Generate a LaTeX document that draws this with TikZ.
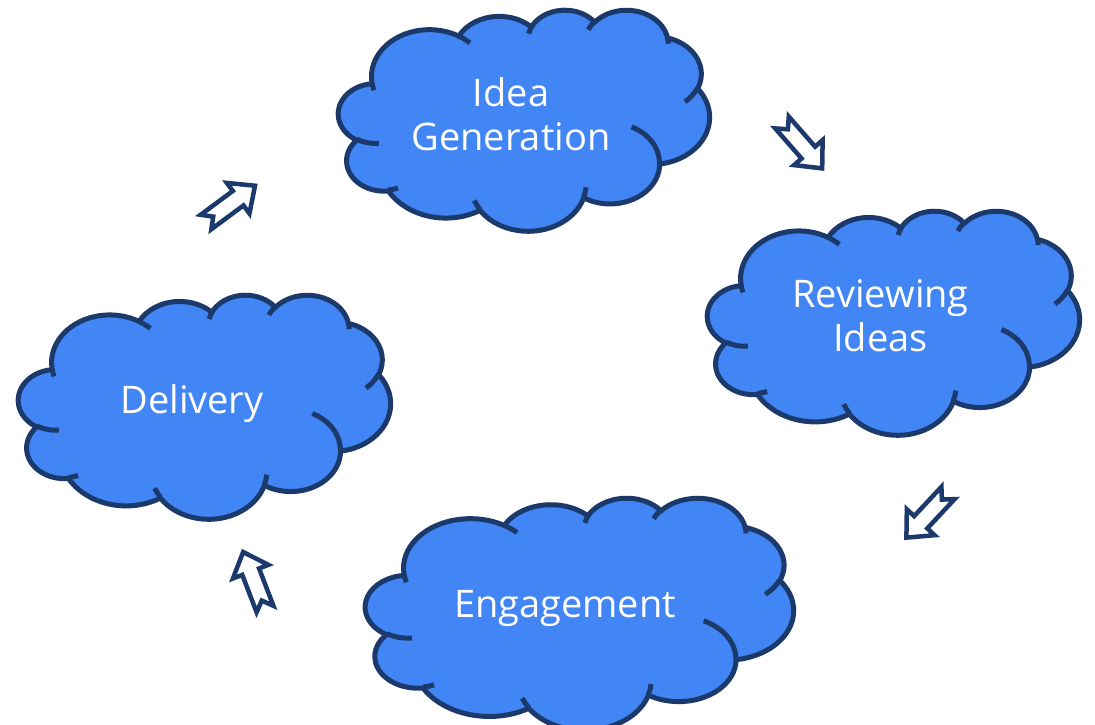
\documentclass[tikz,border=0pt]{standalone}
\usepackage{fontspec}
\setmainfont{Open Sans}

\definecolor{cloudfill}{HTML}{4285F4}
\definecolor{cloudedge}{HTML}{1B3A6B}

% one arc of the cloud outline: x radius, y radius, start, sweep (visual angles)
\newcommand\ooarc[4]{arc[x radius=#1, y radius=#2,
  start angle={atan2(sin(#3)/#2,cos(#3)/#1)},
  delta angle={mod(atan2(sin(#3+#4)/#2,cos(#3+#4)/#1)-atan2(sin(#3)/#2,cos(#3)/#1)+720,360)}]}

\newcommand\cloudoutline{(3.9,14.37)
  \ooarc{6.753}{9.19}{-190.4875}{123.7805}
  \ooarc{5.333}{7.267}{-144.1024}{89.9452}
  \ooarc{4.365}{5.945}{-145.8079}{99.7230}
  \ooarc{4.857}{6.595}{-130.9861}{117.2417}
  \ooarc{5.333}{7.273}{-78.7089}{109.0269}
  \ooarc{6.775}{9.22}{-46.2673}{130.2690}
  \ooarc{5.785}{7.867}{0.6250}{114.0333}
  \ooarc{6.752}{9.215}{22.4516}{115.1726}
  \ooarc{7.72}{10.543}{66.2426}{75.7110}
  \ooarc{4.36}{5.918}{-274.9421}{146.7356}
  \ooarc{4.345}{5.945}{-246.8285}{152.5189}
  -- cycle}

\newcommand\cloudfolds{
  (4.693,26.177) \ooarc{4.345}{5.945}{86.7420}{26.4295}
  (6.928,34.899) \ooarc{4.36}{5.918}{73.6105}{11.4475}
  (16.478,39.09) \ooarc{6.752}{9.215}{137.6242}{14.0811}
  (28.827,34.751) \ooarc{6.752}{9.215}{6.4533}{15.9984}
  (34.129,22.954) \ooarc{5.785}{7.867}{-70.2924}{70.9174}
  (41.798,15.354) \ooarc{5.333}{7.273}{30.3180}{27.7515}
  (38.324,5.426) \ooarc{4.857}{6.595}{-13.7443}{14.8589}
  (29.078,3.952) \ooarc{4.857}{6.595}{-149.1815}{18.1954}
  (22.141,4.72) \ooarc{4.365}{5.945}{-163.4943}{17.6864}
  (14,5.192) \ooarc{6.753}{9.19}{-66.7070}{12.3194}
  (4.127,15.789) \ooarc{6.753}{9.19}{157.6544}{11.8582}}

\tikzset{
  cloudbody/.style={draw=cloudedge, fill=cloudfill, line width=5pt},
  cloudfold/.style={draw=cloudedge, line width=5pt},
  cloudtext/.style={text=white, align=center, font=\fontsize{38}{44}\selectfont},
  hollowarrow/.style={draw=cloudedge, fill=white, line width=4.5pt, line join=miter}
}

\begin{document}
\begin{tikzpicture}
  [x=1pt, y=-1pt]
  \useasboundingbox (0,0) rectangle (1095,725);

  \foreach \cx/\cy/\cw/\ch in {338.5/9.5/371/221, 707.5/210.5/372/224,
      18.5/294.5/372/224, 365.5/497.5/428/232}
  {
    \begin{scope}[shift={(\cx,\cy)}, x=1cm, y=1cm,
        xscale=\cw/1229.16, yscale=-\ch/1229.16]
      \path[cloudbody] \cloudoutline;
      \path[cloudfold] \cloudfolds;
    \end{scope}
  }

  \node[cloudtext] (idea) at (511, 114) {Idea\\Generation};
  \node[cloudtext] (review) at (880.5, 316) {Reviewing\\Ideas};
  \node[cloudtext, anchor=base] (deliver) at (192, 413.3) {Delivery};
  \node[cloudtext, anchor=base] (engage) at (565, 617.3) {Engagement};

  \foreach \name/\px/\py/\ang in {toidea/206/222/36.5, toreview/782/122.5/-48.8,
      toengage/948/493/-133, todeliver/265/609/111}
  {
    \coordinate (\name) at (\px,\py);
    \begin{scope}[shift={(\name)}, rotate=\ang]
      \path[hollowarrow] (0,-9) -- (40,-9) -- (40,-19) -- (61,0) -- (40,19)
        -- (40,9) -- (0,9) -- (9,0) -- cycle;
    \end{scope}
  }

\end{tikzpicture}
\end{document}
